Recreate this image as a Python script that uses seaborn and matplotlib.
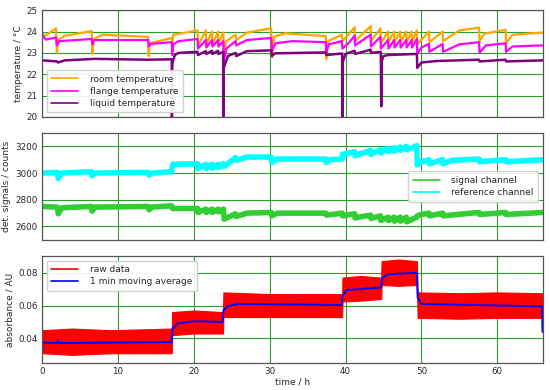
import matplotlib.pyplot as plt
import seaborn as sns
import pandas as pd
from matplotlib.lines import Line2D

# temperature panel, keypoints (time in h, value in degC)
room_t = [0, 0.4, 1.85, 1.95, 2.1, 3, 6.55, 6.65, 6.8, 8, 14.0, 14.05, 14.2, 17.1, 17.15, 17.3,
          20.5, 20.55, 21.6, 21.65, 22.4, 22.45, 23.2, 23.25, 23.9, 23.95, 24.3, 25.5, 25.6, 27,
          30.2, 30.3, 30.6, 32, 37.4, 37.45, 37.7, 39.5, 39.6, 41.2, 41.25, 43.3, 43.35, 44.6,
          44.65, 45.6, 45.65, 46.4, 46.45, 47.2, 47.25, 48.0, 48.05, 48.7, 48.75, 49.4, 49.45,
          51.0, 51.05, 52.8, 52.85, 55, 57.6, 57.65, 58.3, 61.1, 61.15, 62, 66]
room_v = [23.9, 23.8, 24.15, 23.0, 23.6, 23.8, 24.02, 22.95, 23.65, 23.85, 23.75, 22.85, 23.45,
          23.7, 23.5, 23.85, 24.05, 23.35, 24.05, 23.4, 24.0, 23.4, 24.0, 23.45, 23.95, 23.0,
          23.55, 23.85, 23.6, 23.95, 24.15, 22.8, 23.75, 23.92, 23.78, 22.7, 23.55, 23.85, 23.55,
          24.2, 23.55, 24.25, 23.55, 24.15, 23.45, 24.0, 23.5, 24.0, 23.5, 24.0, 23.5, 24.0, 23.5,
          24.0, 23.5, 24.05, 23.4, 24.0, 23.5, 24.0, 23.55, 24.05, 24.18, 23.55, 23.9, 24.08,
          23.45, 23.85, 23.95]

flange_t = [0, 0.5, 1.85, 1.95, 2.3, 6.55, 6.65, 6.9, 14.0, 14.05, 14.3, 17.1, 17.15, 17.3, 18,
            20.5, 20.55, 21.6, 21.65, 22.4, 22.45, 23.2, 23.25, 23.9, 23.95, 24.3, 25.5, 25.6, 27,
            30.2, 30.3, 30.8, 33, 37.4, 37.45, 37.8, 39.5, 39.6, 40.5, 41.2, 41.25, 43.3, 43.35,
            44.6, 44.65, 45.6, 45.65, 46.4, 46.45, 47.2, 47.25, 48.0, 48.05, 48.7, 48.75, 49.4,
            49.45, 50, 51.0, 51.05, 52.8, 52.85, 55, 57.6, 57.65, 58.5, 61.1, 61.15, 62, 66]
flange_v = [23.85, 23.62, 23.72, 23.35, 23.55, 23.65, 23.4, 23.6, 23.6, 23.3, 23.42, 23.5, 22.9,
            23.4, 23.55, 23.65, 23.2, 23.6, 23.25, 23.6, 23.3, 23.6, 23.3, 23.55, 22.6, 23.2, 23.55,
            23.35, 23.6, 23.7, 23.1, 23.45, 23.55, 23.5, 23.0, 23.4, 23.55, 23.2, 23.5, 23.8, 23.35,
            23.85, 23.3, 23.75, 23.2, 23.6, 23.2, 23.6, 23.25, 23.6, 23.25, 23.6, 23.25, 23.6, 23.25,
            23.65, 22.95, 23.25, 23.42, 23.05, 23.42, 23.05, 23.4, 23.5, 23.0, 23.35, 23.45, 23.05,
            23.3, 23.35]

liquid_t = [0, 2, 2.1, 3, 7, 14, 17.1, 17.12, 17.17, 17.5, 18, 20.5, 20.55, 21.6, 21.65, 22.4,
            22.45, 23.2, 23.25, 23.88, 23.9, 23.95, 24.5, 25.5, 25.6, 27, 30.2, 30.3, 30.7, 37.4,
            37.45, 39.55, 39.6, 39.65, 40, 41.2, 41.25, 43.3, 43.35, 44.65, 44.7, 44.75, 45, 45.6,
            49.4, 49.45, 50, 52, 57.6, 57.65, 61.1, 61.15, 66]
liquid_v = [22.65, 22.6, 22.55, 22.65, 22.72, 22.68, 22.7, 19.9, 22.5, 22.9, 23.0, 23.05, 22.9,
            23.08, 22.95, 23.1, 22.95, 23.1, 22.95, 23.05, 19.9, 22.3, 22.85, 23.0, 22.85, 23.08,
            23.12, 22.85, 22.98, 23.02, 22.9, 22.97, 19.9, 22.6, 22.95, 23.1, 22.95, 23.15, 23.0,
            23.05, 20.5, 22.6, 22.85, 22.9, 22.95, 22.3, 22.55, 22.62, 22.68, 22.6, 22.68, 22.6,
            22.65]

# detector signals (counts)
ref_t = [0, 2.0, 2.15, 2.6, 6.5, 6.6, 7, 14, 14.1, 14.5, 17.05, 17.25, 20.5, 20.55, 21.6, 21.65,
         22.4, 22.45, 23.2, 23.25, 23.9, 24.0, 25.5, 25.6, 27, 30.2, 30.3, 31, 37.4, 37.45, 38,
         39.55, 39.6, 41.2, 41.25, 43.3, 43.35, 44.6, 44.65, 45.6, 45.65, 46.4, 46.45, 47.2, 47.25,
         48.0, 48.05, 49.4, 49.45, 50, 51, 51.05, 52.8, 52.85, 54, 57.6, 57.65, 61.1, 61.15, 66]
ref_v = [3000, 3005, 2960, 3000, 3010, 2980, 3000, 3005, 2985, 3000, 3010, 3065, 3070, 3035, 3065,
         3035, 3065, 3035, 3065, 3040, 3070, 3050, 3115, 3095, 3120, 3120, 3080, 3105, 3105, 3080,
         3100, 3105, 3140, 3160, 3130, 3170, 3140, 3175, 3150, 3185, 3160, 3190, 3165, 3195, 3170,
         3200, 3175, 3205, 3060, 3085, 3100, 3070, 3100, 3070, 3095, 3105, 3085, 3100, 3085, 3100]

sig_t = [0, 2.0, 2.15, 2.6, 6.5, 6.6, 7, 14, 14.1, 14.5, 17.05, 17.2, 20.5, 20.55, 21.6, 21.65,
         22.4, 22.45, 23.2, 23.25, 23.9, 24.0, 25.5, 25.6, 27, 30.2, 30.3, 31, 37.4, 37.45, 39.55,
         39.6, 41.2, 41.25, 43.3, 43.35, 44.6, 44.65, 45.6, 45.65, 46.4, 46.45, 47.2, 47.25, 48.0,
         48.05, 49.4, 49.45, 50, 51, 51.05, 52.8, 52.85, 57.6, 57.65, 61.1, 61.15, 66]
sig_v = [2750, 2745, 2695, 2740, 2750, 2715, 2745, 2750, 2725, 2745, 2755, 2735, 2735, 2705, 2730,
         2705, 2730, 2705, 2730, 2710, 2730, 2655, 2695, 2675, 2700, 2705, 2680, 2700, 2700, 2685,
         2700, 2680, 2695, 2665, 2685, 2660, 2680, 2645, 2670, 2645, 2670, 2640, 2670, 2640, 2670,
         2635, 2670, 2680, 2690, 2700, 2680, 2700, 2680, 2705, 2690, 2705, 2690, 2705]

# absorbance
avg_t = [0, 0.05, 2, 2.1, 2.3, 17.1, 17.2, 17.8, 20, 23.8, 23.9, 24.5, 26, 39.5, 39.6, 40.2, 44.7,
         44.8, 45.5, 49.4, 49.5, 50, 65.9, 65.95]
avg_v = [0.031, 0.0375, 0.0372, 0.039, 0.0372, 0.0378, 0.046, 0.049, 0.0505, 0.050, 0.057, 0.0598,
         0.061, 0.0603, 0.066, 0.0695, 0.071, 0.0765, 0.079, 0.080, 0.065, 0.061, 0.0595, 0.044]

raw_t = [0, 4, 9, 17.1, 17.15, 20, 23.85, 23.9, 30, 39.55, 39.6, 42, 44.7, 44.75, 47, 49.4, 49.5,
         55, 60, 66]
raw_lo = [0.031, 0.030, 0.031, 0.031, 0.042, 0.043, 0.043, 0.053, 0.053, 0.053, 0.0625, 0.063,
          0.064, 0.0725, 0.072, 0.0725, 0.0525, 0.052, 0.0525, 0.0525]
raw_hi = [0.045, 0.046, 0.045, 0.046, 0.056, 0.057, 0.056, 0.068, 0.067, 0.067, 0.077, 0.078,
          0.077, 0.087, 0.088, 0.087, 0.068, 0.0675, 0.068, 0.0675]

sns.set_style("whitegrid", {"grid.color": "#2a9d2a", "axes.edgecolor": "#555555"})
plt.rcParams['font.family'] = ['DejaVu Sans']

fig = plt.figure(figsize=(5.5, 3.9), dpi=100)
ax1 = fig.add_axes([0.0764, 0.700, 0.9106, 0.274])
ax2 = fig.add_axes([0.0764, 0.385, 0.9106, 0.274], sharex=ax1)
ax3 = fig.add_axes([0.0764, 0.069, 0.9106, 0.274], sharex=ax1)


def draw(ax, t, v, color, lw):
    sns.lineplot(x=t, y=v, ax=ax, color=color, lw=lw, sort=False, estimator=None)


draw(ax1, room_t, room_v, "orange", 1.6)
draw(ax1, flange_t, flange_v, "magenta", 1.6)
draw(ax1, liquid_t, liquid_v, "purple", 1.8)
draw(ax2, sig_t, sig_v, "limegreen", 4.0)
draw(ax2, ref_t, ref_v, "cyan", 4.0)
ax3.fill_between(raw_t, raw_lo, raw_hi, color="red", lw=0.8)
draw(ax3, avg_t, avg_v, "blue", 1.4)

ax1.set_ylim(20, 25)
ax1.set_yticks([20, 21, 22, 23, 24, 25])
ax2.set_ylim(2500, 3300)
ax2.set_yticks([2600, 2800, 3000, 3200])
ax3.set_ylim(0.025, 0.09)
ax3.set_yticks([0.04, 0.06, 0.08])
ax3.set_xlim(0, 66)
ax3.set_xticks([0, 10, 20, 30, 40, 50, 60])

ax1.set_ylabel("temperature / °C", fontsize=6.5, labelpad=3)
ax2.set_ylabel("det. signals / counts", fontsize=6.5, labelpad=3)
ax3.set_ylabel("absorbance / AU", fontsize=6.5, labelpad=3)
ax3.set_xlabel("time / h", fontsize=6.5, labelpad=1)

for ax in (ax1, ax2, ax3):
    ax.tick_params(labelsize=6.3, length=0, pad=3)
    ax.grid(True, color="#2a9d2a", lw=0.8)
    for s in ax.spines.values():
        s.set_linewidth(0.9)
ax1.tick_params(labelbottom=False)
ax2.tick_params(labelbottom=False)


def legend(ax, names, colors, loc):
    handles = [Line2D([], [], color=c, lw=1.2) for c in colors]
    ax.legend(handles, names, loc=loc, fontsize=6.5, frameon=True, framealpha=0.9,
              edgecolor="#cccccc", handlelength=3.0, handletextpad=1.3, borderpad=0.5,
              labelspacing=0.35)


legend(ax1, ["room temperature", "flange temperature", "liquid temperature"],
       ["orange", "magenta", "purple"], "lower left")
legend(ax2, ["signal channel", "reference channel"], ["limegreen", "cyan"], "center right")
legend(ax3, ["raw data", "1 min moving average"], ["red", "blue"], "upper left")

fig.savefig("out.png", dpi=100)
